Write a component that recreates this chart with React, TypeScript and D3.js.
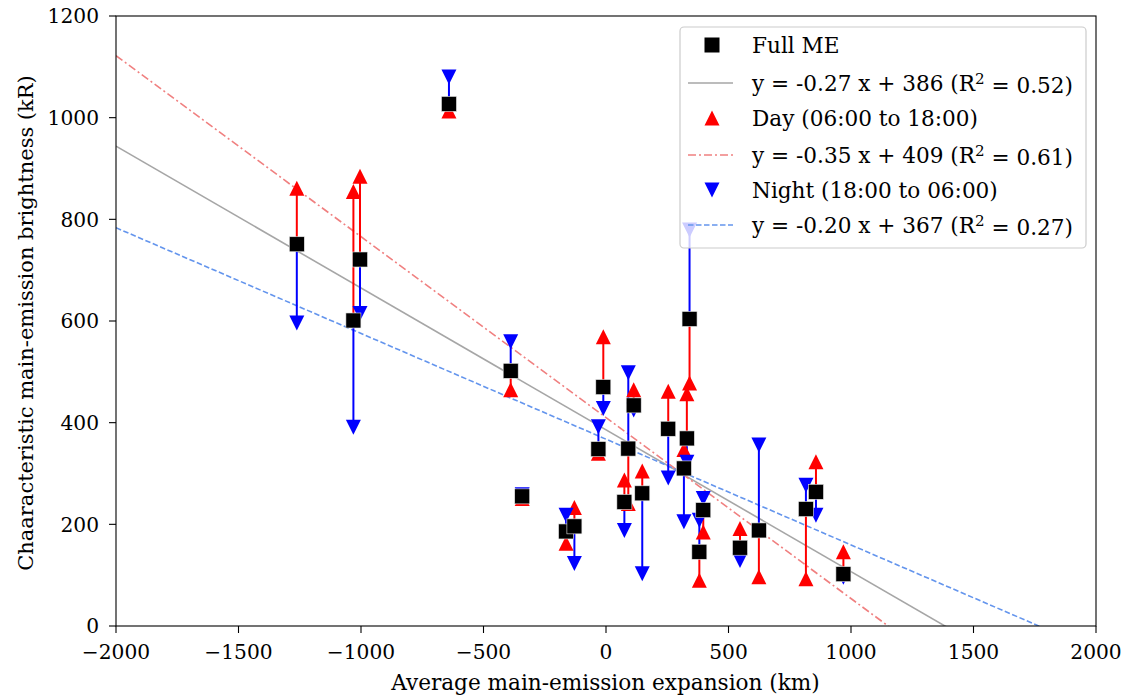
import * as d3 from "d3";

// values
const expansion = [-1262, -1031, -1004, -641, -389, -342, -163, -129, -31, -11, 75, 91, 113, 148, 254, 318, 330, 341, 381, 397, 547, 624, 816, 857, 969];
const fullME = [751, 601, 721, 1027, 502, 255, 186, 196, 348, 470, 244, 349, 434, 261, 388, 310, 369, 604, 146, 228, 154, 188, 230, 264, 102];
const dayME = [861, 855, 885, 1013, 465, 251, 163, 233, 340, 569, 287, 241, 465, 305, 462, 347, 457, 478, 90, 185, 192, 97, 93, 323, 146];
const nightME = [596, 391, 615, 1080, 559, 258, 218, 123, 392, 428, 188, 498, 425, 103, 291, 205, 322, 779, 208, 251, 129, 356, 277, 218, 96];

// fitted lines: slope, intercept
const fitFull = [-0.279, 386];
const fitDay = [-0.356, 410];
const fitNight = [-0.208, 367.5];

const xTicks = [-2000, -1500, -1000, -500, 0, 500, 1000, 1500, 2000];
const yTicks = [0, 200, 400, 600, 800, 1000, 1200];

const legendLabels = [
  "Full ME",
  "y = -0.27 x + 386 (R",
  "Day (06:00 to 18:00)",
  "y = -0.35 x + 409 (R",
  "Night (18:00 to 06:00)",
  "y = -0.20 x + 367 (R",
];
const legendR2 = ["", " = 0.52)", "", " = 0.61)", "", " = 0.27)"];

const W = 1130;
const H = 698;
const left = 116;
const right = 1096;
const top = 16;
const bottom = 626;
const font = "DejaVu Serif";

const x = d3.scaleLinear().domain([-2000, 2000]).range([left, right]);
const y = d3.scaleLinear().domain([0, 1200]).range([bottom, top]);

const MS = 15;

function triUp(cx: number, cy: number, s = MS) {
  const h = s / 2;
  return `M${cx},${cy - h}L${cx + h},${cy + h}L${cx - h},${cy + h}Z`;
}
function triDown(cx: number, cy: number, s = MS) {
  const h = s / 2;
  return `M${cx},${cy + h}L${cx + h},${cy - h}L${cx - h},${cy - h}Z`;
}

function fitLine(fit: number[]) {
  const line = d3
    .line<number>()
    .x((d) => x(d))
    .y((d) => y(fit[0] * d + fit[1]));
  return line([-2000, 2000]) as string;
}

const fmt = (v: number) => (v < 0 ? "\u2212" + Math.abs(v) : String(v));

export default function App() {
  const legendRows = [45, 83, 118, 155, 190, 225];
  const lf = 21.6;
  return (
    <svg
      width={W}
      height={H}
      style={{ position: "absolute", left: 0, top: 0, background: "#fff" }}
      fontFamily={font}
    >
      <defs>
        <clipPath id="plot">
          <rect x={left} y={top} width={right - left} height={bottom - top} />
        </clipPath>
      </defs>

      <g clipPath="url(#plot)">
        {/* regression lines */}
        <path d={fitLine(fitFull)} stroke="#a6a6a6" strokeWidth={1.6} fill="none" />
        <path d={fitLine(fitDay)} stroke="#f08080" strokeWidth={1.6} fill="none" strokeDasharray="8,3,2,3" />
        <path d={fitLine(fitNight)} stroke="#6495ed" strokeWidth={1.6} fill="none" strokeDasharray="5.5,2.5" />

        {/* day / night spread */}
        {expansion.map((e, i) => (
          <g key={"l" + i}>
            <line x1={x(e)} x2={x(e)} y1={y(fullME[i])} y2={y(dayME[i])} stroke="#ff0000" strokeWidth={2} />
            <line x1={x(e)} x2={x(e)} y1={y(fullME[i])} y2={y(nightME[i])} stroke="#0000ff" strokeWidth={2} />
          </g>
        ))}
        {expansion.map((e, i) => (
          <path key={"d" + i} d={triUp(x(e), y(dayME[i]))} fill="#ff0000" />
        ))}
        {expansion.map((e, i) => (
          <path key={"n" + i} d={triDown(x(e), y(nightME[i]))} fill="#0000ff" />
        ))}
        {expansion.map((e, i) => (
          <rect
            key={"s" + i}
            x={x(e) - MS / 2}
            y={y(fullME[i]) - MS / 2}
            width={MS}
            height={MS}
            fill="#000"
            stroke="#e6e6e6"
            strokeWidth={0.6}
          />
        ))}
      </g>

      {/* legend */}
      <g>
        <rect x={680} y={27} width={406} height={221} rx={4} fill="#fff" fillOpacity={0.8} stroke="#cccccc" strokeWidth={1.2} />
        <rect x={712 - 7.5} y={legendRows[0] - 7.5} width={15} height={15} fill="#000" />
        <line x1={688} x2={733} y1={legendRows[1]} y2={legendRows[1]} stroke="#a6a6a6" strokeWidth={1.6} />
        <path d={triUp(712, legendRows[2], 15)} fill="#ff0000" />
        <line x1={688} x2={733} y1={legendRows[3]} y2={legendRows[3]} stroke="#f08080" strokeWidth={1.6} strokeDasharray="8,3,2,3" />
        <path d={triDown(712, legendRows[4], 15)} fill="#0000ff" />
        <line x1={688} x2={733} y1={legendRows[5]} y2={legendRows[5]} stroke="#6495ed" strokeWidth={1.6} strokeDasharray="5.5,2.5" />
        {legendLabels.map((t, i) => (
          <text key={"t" + i} x={752} y={legendRows[i]} dy="0.35em" fontSize={lf} fill="#000">
            {t}
            {legendR2[i] && (
              <>
                <tspan dy="-0.45em" fontSize={lf * 0.7}>2</tspan>
                <tspan dy="0.45em">{legendR2[i]}</tspan>
              </>
            )}
          </text>
        ))}
      </g>

      {/* axes frame */}
      <rect x={left} y={top} width={right - left} height={bottom - top} fill="none" stroke="#000" strokeWidth={1.1} />

      {xTicks.map((t) => (
        <g key={"xt" + t}>
          <line x1={x(t)} x2={x(t)} y1={bottom} y2={bottom + 7} stroke="#000" strokeWidth={1.1} />
          <text x={x(t)} y={659} textAnchor="middle" fontSize={20.2}>
            {fmt(t)}
          </text>
        </g>
      ))}
      {yTicks.map((t) => (
        <g key={"yt" + t}>
          <line x1={left - 7} x2={left} y1={y(t)} y2={y(t)} stroke="#000" strokeWidth={1.1} />
          <text x={left - 17} y={y(t)} dy="0.36em" textAnchor="end" fontSize={20.2}>
            {fmt(t)}
          </text>
        </g>
      ))}

      <text x={(left + right) / 2 - 0.5} y={690} textAnchor="middle" fontSize={lf}>
        Average main-emission expansion (km)
      </text>
      <text
        transform={`translate(33,${(top + bottom) / 2 + 2}) rotate(-90)`}
        textAnchor="middle"
        fontSize={21}
      >
        Chaaracteristic main-emission brightness (kR)
      </text>
    </svg>
  );
}
